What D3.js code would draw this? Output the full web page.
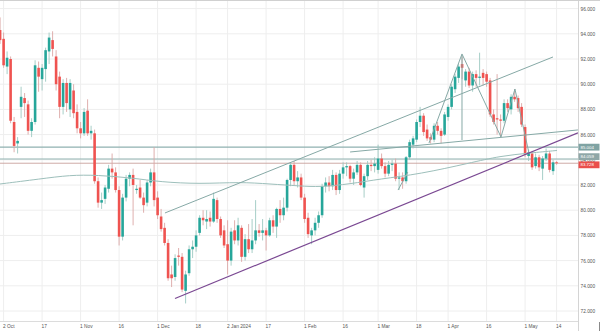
<!DOCTYPE html>
<html><head><meta charset="utf-8">
<script src="https://cdn.jsdelivr.net/npm/d3@7"></script>
<style>
html,body{margin:0;padding:0;background:#fff;}
svg{display:block;font-family:"Liberation Sans",Arial,sans-serif;}
</style></head><body>
<svg id="chart" width="600" height="331"></svg>
<script>
// ---------- data ----------
const dates = [
"2023-09-29",
"2023-10-02","2023-10-03","2023-10-04","2023-10-05","2023-10-06","2023-10-09","2023-10-10","2023-10-11","2023-10-12","2023-10-13","2023-10-16","2023-10-17","2023-10-18","2023-10-19","2023-10-20","2023-10-23","2023-10-24","2023-10-25","2023-10-26","2023-10-27","2023-10-30","2023-10-31",
"2023-11-01","2023-11-02","2023-11-03","2023-11-06","2023-11-07","2023-11-08","2023-11-09","2023-11-10","2023-11-13","2023-11-14","2023-11-15","2023-11-16","2023-11-17","2023-11-20","2023-11-21","2023-11-22","2023-11-23","2023-11-24","2023-11-27","2023-11-28","2023-11-29","2023-11-30",
"2023-12-01","2023-12-04","2023-12-05","2023-12-06","2023-12-07","2023-12-08","2023-12-11","2023-12-12","2023-12-13","2023-12-14","2023-12-15","2023-12-18","2023-12-19","2023-12-20","2023-12-21","2023-12-22","2023-12-26","2023-12-27","2023-12-28","2023-12-29",
"2024-01-02","2024-01-03","2024-01-04","2024-01-05","2024-01-08","2024-01-09","2024-01-10","2024-01-11","2024-01-12","2024-01-15","2024-01-16","2024-01-17","2024-01-18","2024-01-19","2024-01-22","2024-01-23","2024-01-24","2024-01-25","2024-01-26","2024-01-29","2024-01-30","2024-01-31",
"2024-02-01","2024-02-02","2024-02-05","2024-02-06","2024-02-07","2024-02-08","2024-02-09","2024-02-12","2024-02-13","2024-02-14","2024-02-15","2024-02-16","2024-02-19","2024-02-20","2024-02-21","2024-02-22","2024-02-23","2024-02-26","2024-02-27","2024-02-28","2024-02-29",
"2024-03-01","2024-03-04","2024-03-05","2024-03-06","2024-03-07","2024-03-08","2024-03-11","2024-03-12","2024-03-13","2024-03-14","2024-03-15","2024-03-18","2024-03-19","2024-03-20","2024-03-21","2024-03-22","2024-03-25","2024-03-26","2024-03-27","2024-03-28",
"2024-04-01","2024-04-02","2024-04-03","2024-04-04","2024-04-05","2024-04-08","2024-04-09","2024-04-10","2024-04-11","2024-04-12","2024-04-15","2024-04-16","2024-04-17","2024-04-18","2024-04-19","2024-04-22","2024-04-23","2024-04-24","2024-04-25","2024-04-26","2024-04-29","2024-04-30",
"2024-05-01","2024-05-02","2024-05-03","2024-05-06","2024-05-07","2024-05-08","2024-05-09","2024-05-10","2024-05-13","2024-05-14"];

const opens = [
94.3,93.6,91.4,92.0,87.0,85.3,88.2,88.9,88.4,86.3,87.0,91.3,90.4,91.2,92.6,93.5,92.2,90.6,88.2,90.1,88.0,89.5,87.8,
86.5,86.1,87.9,86.1,86.1,82.3,80.6,80.9,81.7,83.3,83.0,81.6,77.9,81.0,82.5,82.8,81.6,81.8,81.0,80.6,82.2,83.0,
81.0,79.5,78.6,77.4,74.9,74.7,76.4,76.3,73.6,75.0,76.9,77.1,78.2,79.4,79.1,79.4,79.1,80.8,79.3,78.4,
77.3,76.0,78.4,77.6,78.6,76.3,77.7,76.9,77.6,78.4,78.2,78.4,78.0,79.2,78.7,80.1,79.6,80.2,82.4,83.6,82.3,82.6,
81.0,79.4,78.0,78.4,79.0,79.6,81.9,82.2,81.9,82.8,81.6,82.9,83.4,83.5,82.5,83.0,83.6,81.8,82.7,83.6,83.5,
83.2,84.1,83.5,82.9,83.6,83.7,82.5,82.6,82.3,84.2,85.2,85.6,87.0,87.5,86.4,85.8,85.6,86.7,86.3,86.0,
87.4,88.2,89.6,90.5,91.6,90.3,91.0,89.9,90.8,90.5,90.9,90.8,90.3,87.6,87.3,87.2,87.1,88.5,88.0,89.0,88.9,88.2,
86.6,84.3,84.5,83.5,84.2,83.3,84.1,84.5,83.1,83.8];

const highs = [
95.3,94.1,92.6,92.2,87.4,85.8,89.8,89.3,88.7,87.3,91.9,91.8,91.6,92.9,94.1,94.2,92.7,91.0,90.4,90.5,90.4,90.0,88.4,
87.0,88.1,88.8,86.7,86.4,82.6,81.4,82.0,83.6,84.5,83.4,81.9,81.3,82.8,83.0,83.3,82.0,82.4,81.4,82.4,83.3,85.0,
81.5,80.1,79.0,77.7,75.6,76.5,77.0,76.6,75.2,77.2,77.6,78.4,79.6,80.0,80.0,79.9,81.4,81.0,79.5,78.8,
79.2,78.6,79.2,79.4,78.8,78.1,78.9,79.3,80.8,78.9,79.3,78.6,79.4,79.6,80.2,80.8,81.0,82.5,83.8,83.9,83.1,82.9,
81.3,79.8,78.6,79.4,79.9,82.1,82.6,82.7,83.2,83.0,83.2,83.8,83.8,83.6,83.3,83.9,83.8,82.9,83.9,84.0,84.2,
85.2,84.5,83.8,83.9,84.0,84.1,83.0,83.0,84.3,85.6,85.9,87.2,88.2,87.7,86.8,86.1,86.9,87.0,86.5,87.8,
88.4,90.0,90.8,91.6,92.2,91.2,91.3,91.0,91.1,92.5,91.2,91.0,90.5,88.0,90.8,87.6,88.8,88.8,89.2,89.6,89.1,88.5,
86.8,84.8,84.7,84.5,84.4,84.3,84.9,84.7,84.0,83.9];

const lows = [
93.2,91.3,90.8,86.9,84.6,84.5,87.3,87.4,86.0,85.8,86.8,89.4,89.5,90.2,91.6,92.2,89.5,87.3,87.6,87.8,87.4,87.3,86.1,
85.7,85.9,85.9,85.6,82.1,80.2,80.1,80.5,81.4,82.5,81.4,77.2,77.6,80.7,81.9,78.8,81.3,80.9,79.8,80.3,81.9,80.3,
79.3,78.3,77.2,74.4,73.9,74.4,75.6,73.5,72.6,74.8,76.2,76.7,78.0,78.8,78.5,78.7,79.0,79.0,77.8,77.0,
74.9,75.6,77.3,77.2,75.9,76.0,76.6,76.6,77.3,77.9,77.6,76.8,77.9,78.2,77.8,79.0,79.2,79.9,81.9,82.0,81.8,80.8,
79.0,77.8,77.3,78.0,78.6,79.4,81.4,81.5,81.6,81.2,81.3,82.5,82.7,82.2,82.0,82.8,81.9,81.0,82.4,83.1,83.0,
82.9,83.3,82.6,82.7,83.1,82.3,81.6,81.7,82.1,84.0,84.9,85.4,86.6,85.9,85.5,85.3,85.4,86.0,85.3,85.9,
87.1,88.0,89.3,90.1,90.4,89.8,89.7,89.4,89.8,89.9,89.9,89.8,87.4,86.8,86.0,85.8,86.9,87.8,87.6,88.6,87.8,86.6,
84.2,83.9,83.2,83.3,83.1,82.4,83.9,83.0,82.8,83.6];

const closes = [
93.5,91.5,92.1,87.1,85.1,85.5,89.0,88.5,86.3,87.0,91.5,90.6,91.3,92.7,93.7,92.8,90.0,88.2,90.1,88.5,90.1,87.7,86.5,
86.1,87.8,86.1,86.3,82.3,80.6,80.8,81.8,83.3,83.0,81.6,77.9,81.0,82.5,82.8,82.0,81.7,81.0,80.4,82.2,83.0,80.8,
79.6,78.5,77.4,74.6,74.6,76.2,76.3,73.7,74.9,76.9,77.1,78.0,79.4,79.2,79.3,79.1,80.9,79.3,78.0,77.2,
76.0,78.3,77.6,78.8,76.3,77.7,76.9,77.6,78.4,78.2,78.4,78.0,79.2,78.7,80.1,79.6,80.2,82.4,83.6,82.3,82.6,81.0,
79.3,78.1,78.4,79.0,79.6,81.9,82.2,81.9,82.8,81.6,82.9,83.4,83.5,82.5,83.0,83.6,82.0,82.7,83.6,83.5,83.7,
84.1,83.5,82.9,83.6,83.7,82.5,82.6,82.3,84.2,85.4,85.7,87.0,87.5,86.2,85.7,85.6,86.7,86.3,85.9,87.6,
88.2,89.8,90.6,91.4,91.3,91.0,89.9,90.8,90.5,90.6,90.5,90.2,87.6,87.0,87.2,87.1,88.5,88.1,89.0,88.8,88.1,86.8,
84.4,84.6,83.4,84.2,83.4,84.1,84.5,83.2,83.8,83.728];

// slow moving average: [trading-day position, price]
const maPoints = [[-0.03,82.08],[11.4,82.48],[19.97,82.79],[27.69,82.79],[37.97,82.56],[45.69,82.24],
 [57.11,82.08],[68.54,82.24],[77.11,82.08],[85.69,81.92],[91.4,81.84],[99.97,82.08],[108.54,82.48],
 [119.97,82.87],[134.26,83.75],[142.83,84.30],[151.4,84.54],[159.1,84.74]];

// drawn annotations: [trading-day position, price]
const channelUpper = [[47.1,79.78],[157.97,92.16]];
const supportLine  = [[49.97,72.99],[165.1,86.14]];
const necklineRay  = [[100.0,84.62],[165.1,86.37]];
const zigzagSmall  = [[113.7,81.6],[116.5,83.03]];
const zigzagHS     = [[122.54,85.33],[131.97,92.40],[143.11,85.81],[147.1,89.62],[151.1,84.54]];
const headHeight   = [[131.97,92.32],[131.97,85.57]];

const levelLines = [85.004, 84.059];
const lastPrice = 83.728;

const yTicks = [72,74,76,78,80,82,84,86,88,90,92,94,96];
const tickDates  = ["2023-10-02","2023-10-17","2023-11-01","2023-11-16","2023-12-01","2023-12-18","2024-01-02","2024-01-17","2024-02-01","2024-02-16","2024-03-01","2024-03-18","2024-04-01","2024-04-16","2024-05-01","2024-05-14"];
const tickLabels = ["2 Oct","17","1 Nov","16","1 Dec","18","2 Jan 2024","17","1 Feb","16","1 Mar","18","1 Apr","16","1 May","14"];

// ---------- drawing ----------
const W = 578, H = 321;
const svg = d3.select("#chart");
const x = d3.scaleLinear().domain([0,165]).range([0.1, 0.1 + 165*3.5]);
const y = d3.scaleLinear().domain([72 - 10/12.6, 72 + 311/12.6]).range([321, 0]);
const pos = d => dates.indexOf(d);

const UP = "#26a69a", DN = "#ef5350";

svg.append("defs").append("clipPath").attr("id","plot")
  .append("rect").attr("x",0).attr("y",0).attr("width",W).attr("height",H);

// grid
const grid = svg.append("g");
grid.selectAll(".hg").data(yTicks).join("line")
  .attr("x1",0).attr("x2",W).attr("y1",d=>y(d)).attr("y2",d=>y(d))
  .attr("stroke","#eeeeee").attr("stroke-width",1);
grid.selectAll(".vg").data(tickDates).join("line")
  .attr("x1",d=>x(pos(d))).attr("x2",d=>x(pos(d))).attr("y1",0).attr("y2",H)
  .attr("stroke","#eeeeee").attr("stroke-width",1);

const plot = svg.append("g").attr("clip-path","url(#plot)");
const line = d3.line().x(d=>x(d[0])).y(d=>y(d[1]));

// level lines
plot.selectAll(".lvl").data(levelLines).join("line")
  .attr("x1",0).attr("x2",W).attr("y1",d=>y(d)).attr("y2",d=>y(d))
  .attr("stroke","#8fb1b0").attr("stroke-width",(d,i)=>i===0?1.4:1.1);
plot.append("line").attr("x1",0).attr("x2",W).attr("y1",y(lastPrice)).attr("y2",y(lastPrice))
  .attr("stroke","#c9a19d").attr("stroke-width",0.9);

// candles
const idx = d3.range(dates.length);
const cw = 2.6;
plot.selectAll(".wick").data(idx).join("line")
  .attr("x1",i=>x(i)).attr("x2",i=>x(i))
  .attr("y1",i=>y(highs[i])).attr("y2",i=>y(lows[i]))
  .attr("stroke",i=>closes[i]>=opens[i]?"#9dc8c2":"#dba7a5").attr("stroke-width",0.9);
plot.selectAll(".body").data(idx).join("rect")
  .attr("x",i=>x(i)-cw/2).attr("width",cw)
  .attr("y",i=>y(Math.max(opens[i],closes[i])))
  .attr("height",i=>Math.max(0.8, Math.abs(y(opens[i])-y(closes[i]))))
  .attr("fill",i=>closes[i]>=opens[i]?UP:DN);

// moving average
plot.append("path").datum(maPoints)
  .attr("d", d3.line().x(d=>x(d[0])).y(d=>y(d[1])).curve(d3.curveBasis))
  .attr("fill","none").attr("stroke","#9dbfbb").attr("stroke-width",1);

// drawings
const gray = "#86a9a6";
[channelUpper, necklineRay, zigzagSmall, zigzagHS, headHeight].forEach(pts=>{
  plot.append("path").datum(pts).attr("d",line)
    .attr("fill","none").attr("stroke",gray).attr("stroke-width",1);
});
plot.append("path").datum(supportLine).attr("d",line)
  .attr("fill","none").attr("stroke","#7a4892").attr("stroke-width",1.2);

// axes
svg.append("line").attr("x1",W+0.5).attr("x2",W+0.5).attr("y1",0).attr("y2",331).attr("stroke","#d4d4d4");
svg.append("line").attr("x1",0).attr("x2",W).attr("y1",H+0.5).attr("y2",H+0.5).attr("stroke","#dcdcdc");
svg.append("line").attr("x1",0).attr("x2",600).attr("y1",0.5).attr("y2",0.5).attr("stroke","#d0d0d0");
svg.append("line").attr("x1",599.5).attr("x2",599.5).attr("y1",322).attr("y2",331).attr("stroke","#8a8a8a");

const yAxis = d3.axisRight(y).tickValues(yTicks).tickFormat(d=>d3.format(".3f")(d)).tickSize(0).tickPadding(2.5);
const ya = svg.append("g").attr("transform",`translate(${W},0)`).call(yAxis);
ya.select(".domain").remove();
ya.selectAll("text").attr("font-size",4.8).attr("fill","#555").attr("font-family","Liberation Sans, Arial, sans-serif");

const xAxis = d3.axisBottom(x).tickValues(tickDates.map(pos)).tickFormat((d,i)=>tickLabels[i]).tickSize(0).tickPadding(3.5);
const xa = svg.append("g").attr("transform",`translate(0,${H})`).call(xAxis);
xa.select(".domain").remove();
xa.selectAll("text").attr("font-size",4.8).attr("fill","#555").attr("text-anchor","start").attr("dx",-1)
  .attr("font-family","Liberation Sans, Arial, sans-serif");

// price labels on the axis (nudged apart so the texts do not collide)
const tags = [
  {v: levelLines[1], fill:"#8fa7a7", shift:-2.4},
  {v: levelLines[0], fill:"#7fa3a3", shift:0},
  {v: lastPrice, fill:"#ea4f4c", shift:1.6}
];
const tg = svg.append("g");
tags.forEach(t=>{
  const cy = y(t.v) + t.shift;
  tg.append("rect").attr("x",W+0.5).attr("y",cy-3.4).attr("width",21).attr("height",6.8).attr("fill",t.fill);
  tg.append("text").attr("x",W+2.5).attr("y",cy).attr("dy","0.35em").attr("font-size",4.4)
    .attr("fill","#fff").text(d3.format(".3f")(t.v));
});
</script>
</body></html>
